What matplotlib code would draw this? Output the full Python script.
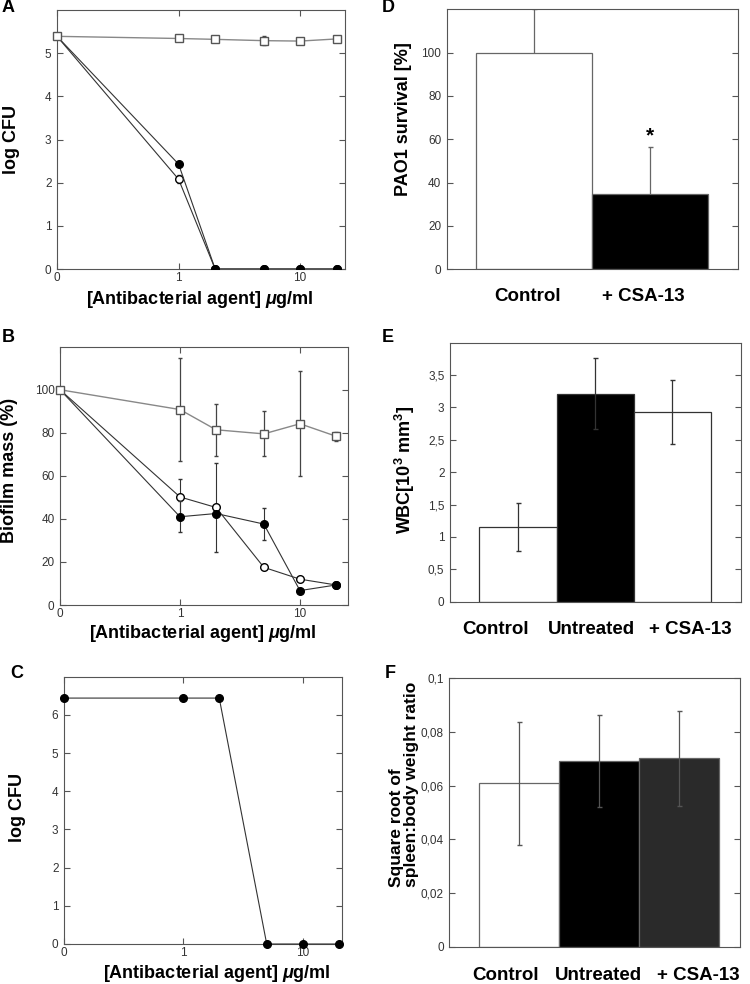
import numpy as np
import matplotlib
matplotlib.use('Agg')
import matplotlib.pyplot as plt
from matplotlib.ticker import FuncFormatter, NullLocator

plt.rcParams['font.family'] = 'Liberation Sans'
plt.rcParams['mathtext.fontset'] = 'custom'
plt.rcParams['mathtext.it'] = 'Liberation Sans:italic:bold'
plt.rcParams['mathtext.rm'] = 'Liberation Sans:bold'
plt.rcParams['axes.edgecolor'] = '#555555'
plt.rcParams['axes.linewidth'] = 0.8
plt.rcParams['xtick.color'] = '#555555'
plt.rcParams['ytick.color'] = '#555555'
plt.rcParams['xtick.labelcolor'] = '#333333'
plt.rcParams['ytick.labelcolor'] = '#333333'

# ---- data ----
conc = np.array([0, 1, 2, 5, 10, 20])

# A: log CFU
a_square = [5.39, 5.34, 5.32, 5.29, 5.28, 5.33]
a_square_err = [0, 0, 0, 0.1, 0, 0]
a_open = [5.39, 2.08, 0, 0, 0, 0]
a_open_err = [0, 0.09, 0, 0, 0, 0]
a_filled = [5.39, 2.43, 0, 0, 0, 0]

# B: biofilm mass
b_square = [100, 90.8, 81.4, 79.5, 84.2, 78.4]
b_square_err = [0, 24, 12.2, 10.4, 24.5, 2]
b_open = [100, 50.2, 45.3, 17.5, 12.0, 9.3]
b_open_err = [0, 8.3, 20.6, 0, 0, 0]
b_filled = [100, 41.0, 42.5, 37.6, 6.7, 9.3]
b_filled_err = [0, 7.1, 0, 7.6, 0, 0]

# C: log CFU
c_filled = [6.44, 6.44, 6.44, 0, 0, 0]

# D: PAO1 survival
d_groups = ['Control', '+ CSA-13']
d_values = [100, 34.6]
d_err = [20, 22]

# E: WBC
e_groups = ['Control', 'Untreated', '+ CSA-13']
e_values = [1.16, 3.21, 2.93]
e_err = [0.37, 0.55, 0.5]

# F: spleen:body weight
f_groups = ['Control', 'Untreated', '+ CSA-13']
f_values = [0.0609, 0.0693, 0.0702]
f_err = [0.0229, 0.0172, 0.0176]

W, H = 750, 984
fig = plt.figure(figsize=(W / 100, H / 100), dpi=100)


def add_ax(left, right, top, bottom):
    return fig.add_axes([left / W, 1 - bottom / H, (right - left) / W, (bottom - top) / H])


def xpos(c):
    # zero concentration is drawn at the left edge of the log axis
    c = np.asarray(c, dtype=float)
    return np.where(c == 0, 0.1, c)


def comma_fmt(v, _):
    s = ('%g' % round(v, 4))
    return s.replace('.', ',')


label_font = dict(fontsize=13, fontweight='bold', color='black')
x_label = r'[Antibacterial agent] $\mu$g/ml'


def style_conc_axis(ax, xmax, ymax, yticks):
    ax.set_xscale('log')
    ax.set_xlim(0.1, xmax)
    ax.set_xticks([0.1, 1, 10])
    ax.set_xticklabels(['0', '1', '10'])
    ax.xaxis.set_minor_locator(NullLocator())
    ax.set_ylim(0, ymax)
    ax.set_yticks(yticks)
    ax.tick_params(direction='in', top=True, right=True, length=4, width=0.8,
                   labelsize=8.5, pad=4)
    ax.tick_params(axis='x', pad=2.5)


line_dark = '#333333'
line_light = '#888888'
mk = 5.5

# ---- A ----
axA = add_ax(57, 345, 10, 269)
axA.errorbar(xpos(conc), a_open, yerr=a_open_err, color=line_dark, lw=0.8,
             marker='o', ms=mk, mfc='white', mec='black', capsize=1.5, elinewidth=0.8, zorder=3)
axA.plot(xpos(conc), a_filled, color=line_dark, lw=0.8,
         marker='o', ms=mk, mfc='black', mec='black', zorder=4)
axA.errorbar(xpos(conc), a_square, yerr=a_square_err, color=line_light, lw=1.0,
             marker='s', ms=mk, mfc='white', mec='#555555', capsize=1.5, ecolor='#444444',
             elinewidth=0.8, zorder=5, clip_on=False)
style_conc_axis(axA, 23.4, 6.0, range(0, 6))
fig.text(200 / W, 1 - 299 / H, x_label, ha='center', va='center', **label_font)
fig.text(11 / W, 1 - 140 / H, 'log CFU', ha='center', va='center', rotation=90, **label_font)
fig.text(2 / W, 1 - 8 / H, 'A', ha='left', va='center', fontsize=13, fontweight='bold')

# ---- B ----
axB = add_ax(60, 347.7, 346.7, 605)
axB.errorbar(xpos(conc), b_open, yerr=b_open_err, color=line_dark, lw=0.8,
             marker='o', ms=mk, mfc='white', mec='black', capsize=1.5, elinewidth=0.8, zorder=3)
axB.errorbar(xpos(conc), b_filled, yerr=b_filled_err, color=line_dark, lw=0.8,
             marker='o', ms=mk, mfc='black', mec='black', capsize=1.5, elinewidth=0.8, zorder=4)
axB.errorbar(xpos(conc), b_square, yerr=b_square_err, color=line_light, lw=1.0,
             marker='s', ms=mk, mfc='white', mec='#555555', capsize=1.5, ecolor='#444444',
             elinewidth=0.9, zorder=5, clip_on=False)
style_conc_axis(axB, 25, 120, range(0, 101, 20))
fig.text(203 / W, 1 - 633 / H, x_label, ha='center', va='center', **label_font)
fig.text(10 / W, 1 - 470 / H, 'Biofilm mass (%)', ha='center', va='center', rotation=90, **label_font)
fig.text(2 / W, 1 - 338 / H, 'B', ha='left', va='center', fontsize=13, fontweight='bold')

# ---- C ----
axC = add_ax(64, 342.3, 676.7, 944)
axC.plot(xpos(conc), c_filled, color=line_dark, lw=0.8,
         marker='o', ms=mk, mfc='black', mec='black', zorder=4, clip_on=False)
style_conc_axis(axC, 21.5, 7.0, range(0, 7))
fig.text(217 / W, 1 - 973 / H, x_label, ha='center', va='center', **label_font)
fig.text(17 / W, 1 - 807 / H, 'log CFU', ha='center', va='center', rotation=90, **label_font)
fig.text(10 / W, 1 - 673 / H, 'C', ha='left', va='center', fontsize=13, fontweight='bold')


def style_bar_axis(ax, xlim, ymax, yticks, fmt=None):
    ax.set_xlim(*xlim)
    ax.set_ylim(0, ymax)
    ax.set_yticks(yticks)
    if fmt is not None:
        ax.yaxis.set_major_formatter(FuncFormatter(fmt))
    ax.tick_params(axis='y', direction='in', right=True, length=4, width=0.8, labelsize=8.5, pad=4)
    ax.set_xticks([])


def group_labels(names, centers_px, y_px):
    # category names sit a little spread out under the bars
    for name, cx in zip(names, centers_px):
        fig.text(cx / W, 1 - y_px / H, name, ha='center', va='center', fontsize=13.5,
                 fontweight='bold')


# ---- D ----
axD = add_ax(446.7, 738.3, 9.3, 269.3)
xd = np.arange(len(d_groups))
axD.bar(xd, d_values, width=1.0, color=['white', 'black'], edgecolor='#666666', linewidth=0.9, zorder=2)
axD.errorbar(xd, d_values, yerr=d_err, fmt='none', ecolor='#666666', elinewidth=0.9, capsize=1.8, zorder=1.5)
axD.text(1, 57, '*', ha='center', va='bottom', fontsize=15, fontweight='bold')
style_bar_axis(axD, (-0.75, 1.764), 120, range(0, 101, 20))
group_labels(d_groups, [527.5, 643], 297)
fig.text(403 / W, 1 - 119 / H, 'PAO1 survival [%]', ha='center', va='center', rotation=90, **label_font)
fig.text(382 / W, 1 - 8 / H, 'D', ha='left', va='center', fontsize=13, fontweight='bold')

# ---- E ----
axE = add_ax(450, 741, 342.7, 601.7)
xe = np.arange(len(e_groups))
axE.bar(xe, e_values, width=1.0, color=['white', 'black', 'white'], edgecolor='#333333', linewidth=0.9, zorder=2)
axE.errorbar(xe, e_values, yerr=e_err, fmt='none', ecolor='#333333', elinewidth=0.9, capsize=1.8, zorder=3)
style_bar_axis(axE, (-0.88, 2.89), 4.0, np.arange(0, 3.51, 0.5), comma_fmt)
group_labels(e_groups, [496, 591, 690], 630)
fig.text(405 / W, 1 - 470 / H, r'WBC[10$^{\mathregular{3}}$ mm$^{\mathregular{3}}$]', ha='center', va='center',
         rotation=90, **label_font)
fig.text(382 / W, 1 - 338 / H, 'E', ha='left', va='center', fontsize=13, fontweight='bold')

# ---- F ----
axF = add_ax(449.3, 740, 678.3, 946.7)
xf = np.arange(len(f_groups))
axF.bar(xf, f_values, width=1.0, color=['white', 'black', '#2a2a2a'], edgecolor='#666666', linewidth=0.9, zorder=2)
axF.errorbar(xf, f_values, yerr=f_err, fmt='none', ecolor='#555555', elinewidth=0.9, capsize=1.8, zorder=3)
style_bar_axis(axF, (-0.875, 2.76), 0.1, np.arange(0, 0.101, 0.02), comma_fmt)
group_labels(f_groups, [505.5, 598, 698], 976)
fig.text(404 / W, 1 - 784 / H, 'Square root of\nspleen:body weight ratio', ha='center', va='center',
         rotation=90, multialignment='left', linespacing=1.05, fontsize=12.5, fontweight='bold')
fig.text(385 / W, 1 - 673 / H, 'F', ha='left', va='center', fontsize=13, fontweight='bold')

fig.savefig('out.png', dpi=100)
